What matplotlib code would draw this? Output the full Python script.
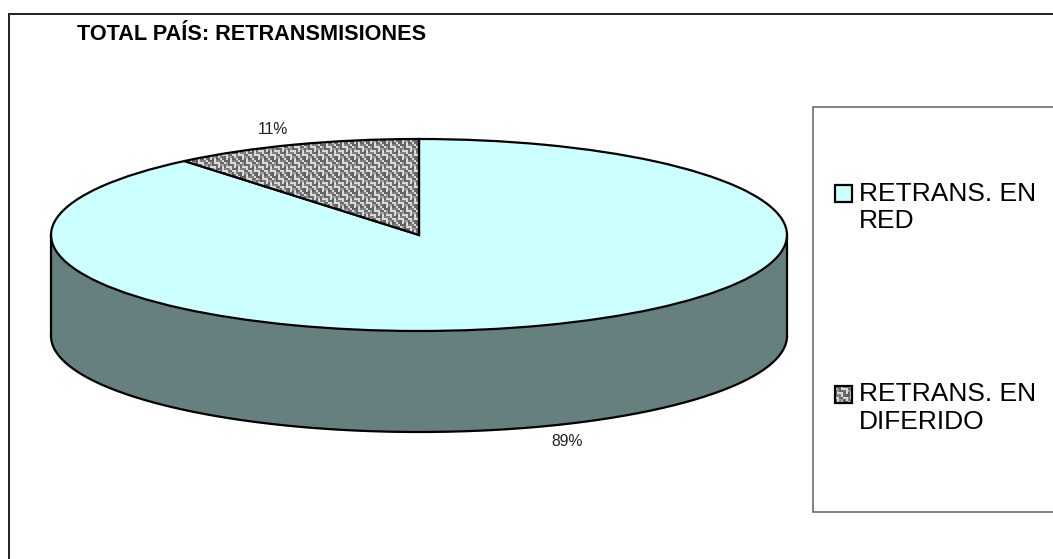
import numpy as np
import matplotlib
matplotlib.use("Agg")
import matplotlib.pyplot as plt
from matplotlib.patches import Rectangle

plt.rcParams['font.family'] = ['Liberation Sans', 'DejaVu Sans']

title = "TOTAL PAÍS: RETRANSMISIONES"
categories = ["RETRANS. EN\nRED", "RETRANS. EN\nDIFERIDO"]
values = [89, 11]
value_labels = ["89%", "11%"]

W, H = 1053, 559
CX, CY, RX, RY, DEPTH = 419, 235, 368, 96, 101

fig = plt.figure(figsize=(W / 100, H / 100), dpi=100, facecolor="white")
px = fig.add_axes([0, 0, 1, 1], zorder=3)
px.set_xlim(0, W); px.set_ylim(H, 0); px.axis("off"); px.patch.set_alpha(0)

ax = fig.add_axes([0, 0, 1, 1], zorder=1)
xl = ((0 - CX) / RX, (W - CX) / RX)
yl = ((CY - H) / RY, CY / RY)

# weave texture
tile = np.array([
    [.38,.38,.38,.85,.50,.50,.50,.85],
    [.85,.60,.38,.85,.85,.85,.42,.42],
    [.42,.60,.38,.42,.42,.85,.60,.60],
    [.42,.85,.85,.85,.42,.85,.38,.85],
    [.50,.50,.50,.85,.42,.38,.38,.85],
    [.85,.85,.42,.42,.85,.85,.50,.85],
    [.38,.85,.60,.60,.38,.85,.50,.42],
    [.38,.85,.38,.85,.38,.42,.85,.42],
])
tex = np.kron(np.tile(tile, (35, 66)), np.ones((2, 2)))[:H, :W]

# side wall
t = np.linspace(np.pi, 2 * np.pi, 300)
dz = DEPTH / RY
xs = np.cos(t); ys = np.sin(t)
ax.fill_between(xs, ys, ys - dz, color="#668080", lw=0, zorder=1)
ax.plot(xs, ys - dz, color="black", lw=1.6, zorder=2)
ax.plot([-1, -1], [0, -dz], color="black", lw=1.6, zorder=2)
ax.plot([1, 1], [0, -dz], color="black", lw=1.6, zorder=2)

wedges, _ = ax.pie(values, startangle=90, counterclock=False, radius=1,
                   colors=["#CCFFFF", "#B0B0B0"],
                   wedgeprops=dict(edgecolor="black", linewidth=1.6))
ax.set_aspect("auto")
im = ax.imshow(tex, extent=(xl[0], xl[1], yl[0], yl[1]), cmap="gray", vmin=0, vmax=1,
               interpolation="bicubic", aspect="auto", zorder=wedges[1].get_zorder() + 0.1)
im.set_clip_path(wedges[1])
wedges[1].set_zorder(im.get_zorder() + 0.1)
wedges[1].set_facecolor("none")
ax.set_xlim(*xl); ax.set_ylim(*yl)
ax.axis("off")

# outer frame: only the top and left edges fall inside the image
px.plot([8.5, 8.5, W], [H, 14, 14], color="#202020", lw=1.4, solid_joinstyle="miter")
px.text(77, 39.5, title, fontsize=15.6, fontweight="bold", ha="left", va="baseline")
px.text(273, 130, value_labels[1], fontsize=11.3, ha="center", va="center", color="#202020")
px.text(567, 441, value_labels[0], fontsize=11.3, ha="center", va="center", color="#202020")

# legend box runs off the right edge
px.plot([W, 813, 813, W], [106.5, 106.5, 511.5, 511.5], color="#606060", lw=1.1, solid_joinstyle="miter")
px.add_patch(Rectangle((835, 185), 17, 17, fc="#CCFFFF", ec="black", lw=1.6))
px.imshow(tile, extent=(835, 852, 403, 386), cmap="gray", vmin=0, vmax=1,
          interpolation="nearest", aspect="auto", zorder=2.5)
px.add_patch(Rectangle((835, 386), 17, 17, fc="none", ec="black", lw=1.6, zorder=3))
px.set_xlim(0, W); px.set_ylim(H, 0)
px.text(859, 207.5, categories[0], fontsize=19, ha="left", va="center", linespacing=1.2)
px.text(859, 408, categories[1], fontsize=19, ha="left", va="center", linespacing=1.2)

fig.savefig("out.png", dpi=100, facecolor="white")
